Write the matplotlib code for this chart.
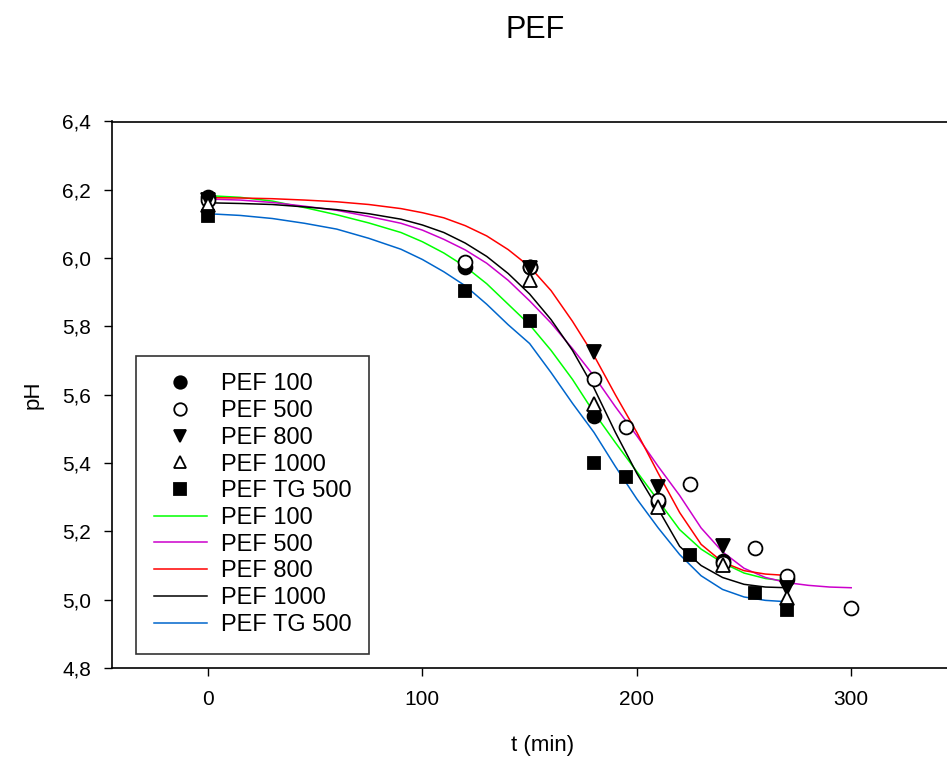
import matplotlib

matplotlib.use("Agg")
import matplotlib.pyplot as plt
from matplotlib.ticker import FuncFormatter

# measured points (t in min, pH)
T_100 = [0, 120, 150, 180, 210, 240, 270]
PH_100 = [6.180, 5.975, 5.975, 5.537, 5.285, 5.113, 5.062]
T_500 = [0, 120, 150, 180, 195, 210, 225, 240, 255, 270, 300]
PH_500 = [6.170, 5.990, 5.975, 5.646, 5.506, 5.293, 5.338, 5.108, 5.150, 5.068, 4.977]
T_800 = [0, 150, 180, 210, 240, 270]
PH_800 = [6.170, 5.972, 5.724, 5.331, 5.156, 5.033]
T_1000 = [0, 150, 180, 210, 240, 270]
PH_1000 = [6.156, 5.936, 5.574, 5.270, 5.103, 5.006]
T_TG500 = [0, 120, 150, 180, 195, 225, 255, 270]
PH_TG500 = [6.124, 5.905, 5.815, 5.401, 5.360, 5.132, 5.021, 4.969]

# fitted curves
FIT_T = [0, 15, 30, 45, 60, 75, 90, 100, 110, 120, 130, 140, 150, 160, 170, 180,
         190, 200, 210, 220, 230, 240, 250, 260, 270]
FIT_T_500 = FIT_T + [280, 290, 300]
FIT_100 = [6.183, 6.178, 6.167, 6.148, 6.127, 6.103, 6.075, 6.048, 6.015, 5.975, 5.925, 5.865,
           5.805, 5.730, 5.645, 5.548, 5.460, 5.375, 5.290, 5.205, 5.148, 5.108, 5.078, 5.062, 5.054]
FIT_500 = [6.173, 6.170, 6.163, 6.152, 6.140, 6.122, 6.102, 6.082, 6.055, 6.024, 5.985, 5.935,
           5.875, 5.810, 5.735, 5.655, 5.565, 5.480, 5.390, 5.305, 5.210, 5.140, 5.092, 5.065,
           5.050, 5.042, 5.037, 5.035]
FIT_800 = [6.177, 6.176, 6.174, 6.170, 6.165, 6.157, 6.145, 6.133, 6.118, 6.095, 6.065, 6.025,
           5.975, 5.905, 5.815, 5.715, 5.600, 5.490, 5.370, 5.255, 5.162, 5.110, 5.085, 5.075, 5.071]
FIT_1000 = [6.162, 6.160, 6.157, 6.150, 6.142, 6.130, 6.114, 6.097, 6.075, 6.044, 6.005, 5.955,
            5.895, 5.820, 5.730, 5.620, 5.490, 5.370, 5.265, 5.156, 5.100, 5.065, 5.045, 5.037, 5.035]
FIT_TG500 = [6.130, 6.125, 6.116, 6.102, 6.085, 6.058, 6.026, 5.996, 5.960, 5.919, 5.865, 5.805,
             5.750, 5.665, 5.575, 5.490, 5.390, 5.295, 5.210, 5.132, 5.070, 5.030, 5.008, 4.998, 4.994]

LABELS = ["PEF 100", "PEF 500", "PEF 800", "PEF 1000", "PEF TG 500"]
X_TICKS = [0, 100, 200, 300]
Y_TICKS = [4.8, 5.0, 5.2, 5.4, 5.6, 5.8, 6.0, 6.2, 6.4]


def main() -> None:
    plt.rcParams.update(
        {
            "font.family": ["Liberation Sans", "DejaVu Sans"],
            "figure.facecolor": "white",
            "axes.facecolor": "white",
        }
    )
    W, H = 947, 762
    fig = plt.figure(figsize=(W / 100, H / 100), dpi=100)
    left, right, bottom, top = 112, 947, 668, 121.5
    ax = fig.add_axes([left / W, 1 - bottom / H, (right - left) / W, (bottom - top) / H])

    fits = [
        (FIT_T, FIT_100, "#00ff00"),
        (FIT_T_500, FIT_500, "#cc00cc"),
        (FIT_T, FIT_800, "#ff0000"),
        (FIT_T, FIT_1000, "#000000"),
        (FIT_T, FIT_TG500, "#0066cc"),
    ]
    line_handles = []
    for (tx, ty, color), label in zip(fits, LABELS):
        (h,) = ax.plot(tx, ty, color=color, lw=1.1, zorder=2, label=label)
        line_handles.append(h)

    points = [
        (T_100, PH_100, "o", "black", 10),
        (T_500, PH_500, "o", "white", 10),
        (T_800, PH_800, "v", "black", 10),
        (T_1000, PH_1000, "^", "white", 10),
        (T_TG500, PH_TG500, "s", "black", 9),
    ]
    point_handles = []
    for (tx, ty, marker, face, size), label in zip(points, LABELS):
        (h,) = ax.plot(tx, ty, linestyle="none", marker=marker, markersize=size,
                       markerfacecolor=face, markeredgecolor="black", markeredgewidth=1.3,
                       zorder=3, label=label)
        point_handles.append(h)

    ax.set_xlim((left - 208) / 2.144, (right - 208) / 2.144)
    ax.set_ylim(4.8, 6.4)
    ax.set_xticks(X_TICKS)
    ax.set_yticks(Y_TICKS)
    ax.yaxis.set_major_formatter(FuncFormatter(lambda v, _: f"{v:.1f}".replace(".", ",")))
    ax.tick_params(direction="out", length=6, width=1.0, labelsize=15)
    ax.tick_params(axis="x", pad=10)
    ax.tick_params(axis="y", pad=9)
    ax.spines["right"].set_visible(False)
    for side in ("left", "bottom", "top"):
        ax.spines[side].set_linewidth(1.2)

    ax.set_xlabel("t (min)", fontsize=16)
    ax.xaxis.set_label_coords((543 - left) / (right - left), -(745 - bottom) / (bottom - top),
                              transform=ax.transAxes)
    ax.xaxis.label.set_va("center")
    ax.set_ylabel("pH", fontsize=16)
    ax.yaxis.set_label_coords(-(left - 33) / (right - left), 0.5, transform=ax.transAxes)
    ax.yaxis.label.set_va("center")
    fig.text(535 / W, 1 - 30 / H, "PEF", ha="center", va="center", fontsize=22)

    ax.legend(
        point_handles + line_handles,
        LABELS + LABELS,
        loc="upper left",
        bbox_to_anchor=(136 / W, 1 - 355.7 / H),
        bbox_transform=fig.transFigure,
        borderaxespad=0,
        fontsize=17,
        markerscale=0.9,
        handlelength=2.25,
        handletextpad=0.6,
        labelspacing=0.2,
        borderpad=0.75,
        frameon=True,
        fancybox=False,
        edgecolor="black",
    ).get_frame().set_linewidth(1.2)

    fig.savefig("out.png", dpi=100)
    plt.close(fig)


if __name__ == "__main__":
    main()
